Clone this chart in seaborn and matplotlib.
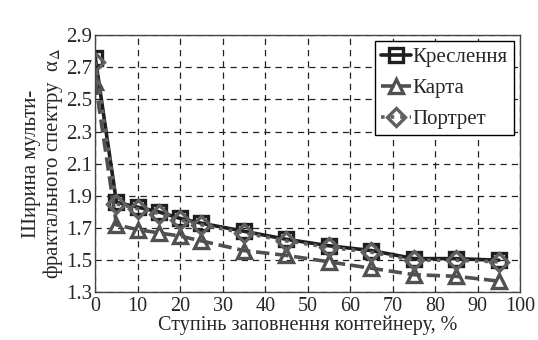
import pandas as pd
import matplotlib.pyplot as plt
import seaborn as sns

fill = [0, 5, 10, 15, 20, 25, 35, 45, 55, 65, 75, 85, 95]
kreslennia = [2.76, 1.86, 1.83, 1.80, 1.76, 1.73, 1.68, 1.63, 1.59, 1.56, 1.51, 1.51, 1.50]
karta = [2.61, 1.72, 1.69, 1.67, 1.65, 1.62, 1.56, 1.53, 1.49, 1.45, 1.41, 1.40, 1.37]
portret = [2.73, 1.85, 1.82, 1.79, 1.75, 1.72, 1.67, 1.62, 1.58, 1.55, 1.50, 1.50, 1.49]
names = ['Креслення', 'Карта', 'Портрет']

sns.set_style('white')
plt.rcParams['font.family'] = ['Liberation Serif', 'DejaVu Serif']
plt.rcParams['mathtext.fontset'] = 'stix'

fig, ax = plt.subplots(figsize=(5.38, 3.40), dpi=100)
fig.subplots_adjust(left=0.177, right=0.967, top=0.897, bottom=0.14)

styles = [
    dict(color='#1e1e1e', marker='s', linestyle='-'),
    dict(color='#505050', marker='^', linestyle='--'),
    dict(color='#606060', marker='D', linestyle=':'),
]
for name, vals, st in zip(names, [kreslennia, karta, portret], styles):
    df = pd.DataFrame({'x': fill, 'y': vals})
    sns.lineplot(data=df, x='x', y='y', ax=ax, label=name, color=st['color'],
                 marker=st['marker'], linestyle=st['linestyle'], linewidth=2.6,
                 markersize=9.5, markerfacecolor='none', markeredgewidth=2.4,
                 markeredgecolor=st['color'])

ax.set_xlim(0, 100)
ax.set_ylim(1.3, 2.9)
ax.set_xticks(range(0, 101, 10))
ax.set_yticks([1.3, 1.5, 1.7, 1.9, 2.1, 2.3, 2.5, 2.7, 2.9])
ax.set_yticklabels(['1.3', '1.5', '1.7', '1.9', '2.1', '2.3', '2.5', '2.7', '2.9'])
ax.grid(True, linestyle=(0, (5, 4)), color='#222222', linewidth=0.9)
ax.tick_params(direction='in', labelsize=15, length=3)
ax.tick_params(axis='x', pad=3, labelsize=14.5)
ax.tick_params(axis='y', pad=2)
for s in ax.spines.values():
    s.set_color('#444444')
    s.set_linewidth(1.0)

ax.set_xlabel('Ступінь заповнення контейнеру, %', fontsize=14.5, labelpad=0)
ax.set_ylabel('Ширина мульти-\nфрактального спектру  α$_{\\Delta}$', fontsize=15,
              labelpad=1, linespacing=1.0)

leg = ax.legend(loc='upper right', fontsize=15, frameon=True, fancybox=False,
                edgecolor='black', handlelength=1.4, handletextpad=0.1,
                borderpad=0.3, labelspacing=0.55, borderaxespad=0.3)
leg.get_frame().set_linewidth(1.0)
leg.get_frame().set_alpha(1)

fig.savefig('out.png', dpi=100)
